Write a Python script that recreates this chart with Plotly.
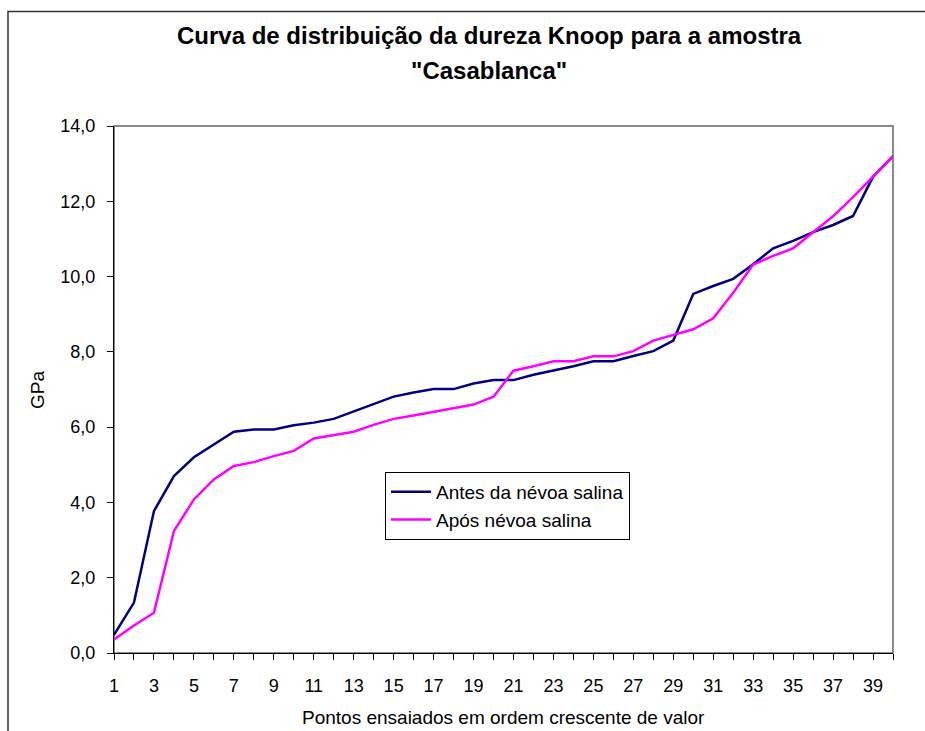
import plotly.graph_objects as go

# Knoop hardness (GPa) sorted in ascending order, 40 indentation points
pontos = list(range(1, 41))
antes = [0.48, 1.34, 3.77, 4.70, 5.20, 5.54, 5.88, 5.94, 5.94, 6.05,
         6.12, 6.22, 6.41, 6.62, 6.81, 6.92, 7.01, 7.01, 7.16, 7.25,
         7.25, 7.39, 7.50, 7.62, 7.75, 7.75, 7.89, 8.02, 8.30, 9.54,
         9.75, 9.94, 10.33, 10.75, 10.95, 11.18, 11.37, 11.61, 12.65, 13.20]
apos = [0.36, 0.73, 1.07, 3.24, 4.08, 4.61, 4.97, 5.07, 5.23, 5.37,
        5.70, 5.78, 5.88, 6.06, 6.22, 6.31, 6.41, 6.50, 6.60, 6.81,
        7.50, 7.62, 7.75, 7.75, 7.88, 7.88, 8.02, 8.30, 8.45, 8.60,
        8.89, 9.57, 10.32, 10.55, 10.75, 11.17, 11.60, 12.11, 12.65, 13.20]

x_tickvals = pontos
x_ticktext = [str(p) if p % 2 == 1 else "" for p in pontos]
y_tickvals = [0, 2, 4, 6, 8, 10, 12, 14]

titulo = ["Curva de distribuição da dureza Knoop para a amostra", "\"Casablanca\""]

FONT = "Liberation Sans, Arial, sans-serif"

fig = go.Figure()
fig.add_trace(go.Scatter(x=pontos, y=antes, mode="lines",
                         name="Antes da névoa salina",
                         line=dict(color="#000080", width=2.5)))
fig.add_trace(go.Scatter(x=pontos, y=apos, mode="lines",
                         name="Após névoa salina",
                         line=dict(color="#FF00FF", width=2.5)))

L, R, T, B = 114, 32, 126, 78
W, H = 925, 731
pw, ph = W - L - R, H - T - B


def px_x(x):
    return (x - L) / pw


def px_y(y):
    return (H - B - y) / ph


annotations = [
    dict(text=f"<b>{line}</b>", x=px_x(489), y=px_y(yc), xref="paper", yref="paper",
         xanchor="center", yanchor="middle", showarrow=False,
         font=dict(family=FONT, size=24, color="black"))
    for line, yc in zip(titulo, [35, 70])
]
annotations.append(dict(text="GPa", x=px_x(37), y=px_y(390), xref="paper", yref="paper",
                        xanchor="center", yanchor="middle", showarrow=False, textangle=-90,
                        font=dict(family=FONT, size=19, color="black")))
annotations.append(dict(text="Pontos ensaiados em ordem crescente de valor",
                        x=px_x(503), y=px_y(717), xref="paper", yref="paper",
                        xanchor="center", yanchor="middle", showarrow=False,
                        font=dict(family=FONT, size=19, color="black")))

fig.update_layout(
    width=W, height=H,
    margin=dict(l=L, r=R, t=T, b=B),
    paper_bgcolor="white", plot_bgcolor="white",
    separators=",.",
    font=dict(family=FONT, size=18, color="black"),
    xaxis=dict(range=[1, 40], tickvals=x_tickvals, ticktext=x_ticktext,
               showgrid=False, zeroline=False, showline=True, linecolor="black",
               linewidth=1, ticks="outside", ticklen=6, tickcolor="black",
               ticklabelstandoff=10, tickfont=dict(size=18)),
    yaxis=dict(range=[0, 14], tickvals=y_tickvals, tickformat=".1f",
               showgrid=False, zeroline=False, showline=True, linecolor="black",
               linewidth=1, ticks="outside", ticklen=6, tickcolor="black",
               ticklabelstandoff=8, tickfont=dict(size=18)),
    legend=dict(x=px_x(385), y=px_y(472), xanchor="left", yanchor="top",
                bgcolor="white", bordercolor="black", borderwidth=1,
                font=dict(size=19), tracegroupgap=0, itemwidth=40),
    showlegend=True,
    annotations=annotations,
    shapes=[
        # plot-area frame (top/right edges show in grey)
        dict(type="rect", xref="paper", yref="paper", x0=0, x1=1, y0=0, y1=1,
             line=dict(color="#666666", width=1.5), layer="below"),
        # chart frame, extending past the right and bottom edges of the page
        dict(type="rect", xref="paper", yref="paper",
             x0=px_x(8), x1=1.2, y0=-0.5, y1=px_y(11.5),
             line=dict(color="#333333", width=1.5), layer="below"),
    ],
)

fig.write_html("out.html")
